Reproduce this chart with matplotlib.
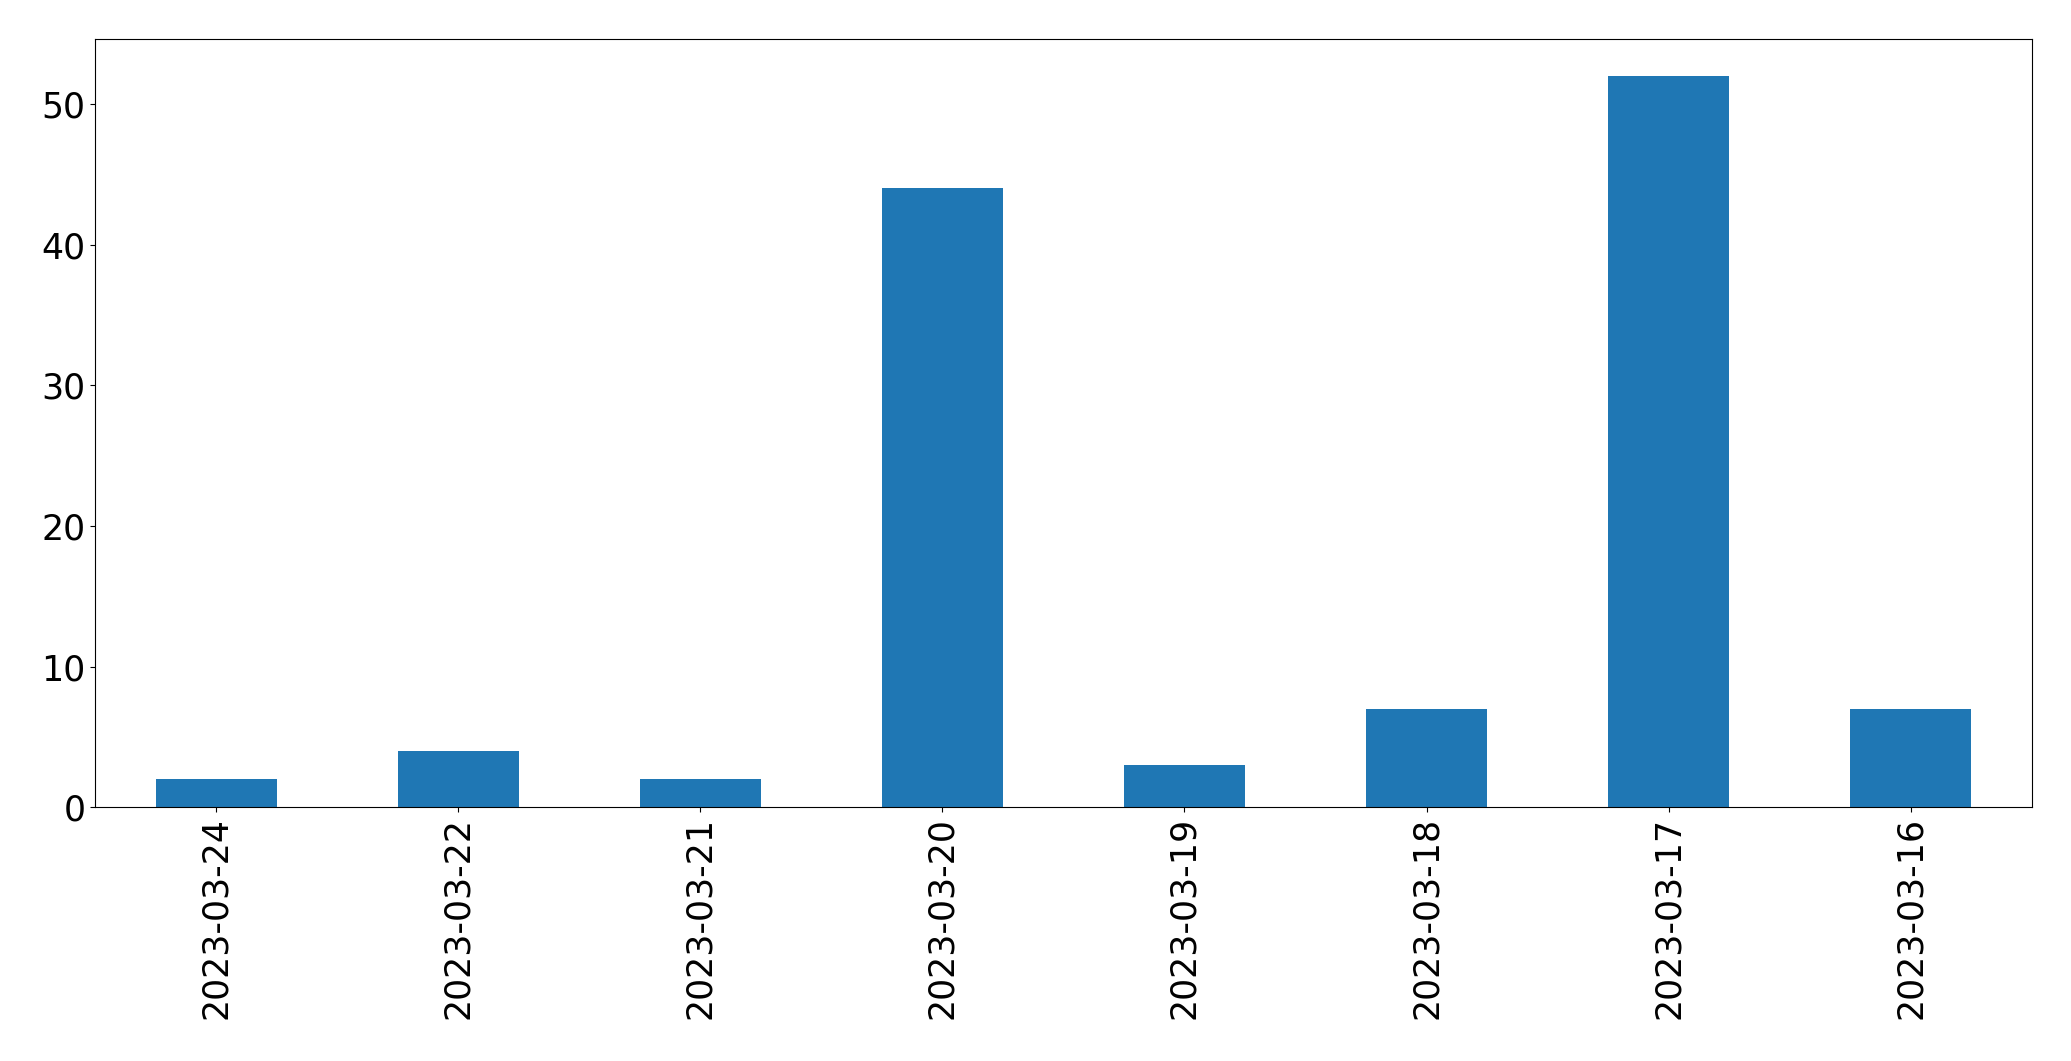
import matplotlib.pyplot as plt

# Data
dates = ['2023-03-24', '2023-03-22', '2023-03-21', '2023-03-20',
         '2023-03-19', '2023-03-18', '2023-03-17', '2023-03-16']
counts = [2, 4, 2, 44, 3, 7, 52, 7]

fig = plt.figure(figsize=(20.71, 10.61), dpi=100)
ax = fig.add_axes([0.046, 0.239, 0.935, 0.724])

x = range(len(dates))
ax.bar(x, counts, width=0.5, color='#1f77b4')
ax.set_xlim(-0.5, len(dates) - 0.5)
ax.set_ylim(0, max(counts) * 1.05)
ax.set_xticks(list(x))
ax.set_xticklabels(dates, rotation=90)
ax.tick_params(axis='both', labelsize=25)

fig.savefig('out.png', dpi=100)
